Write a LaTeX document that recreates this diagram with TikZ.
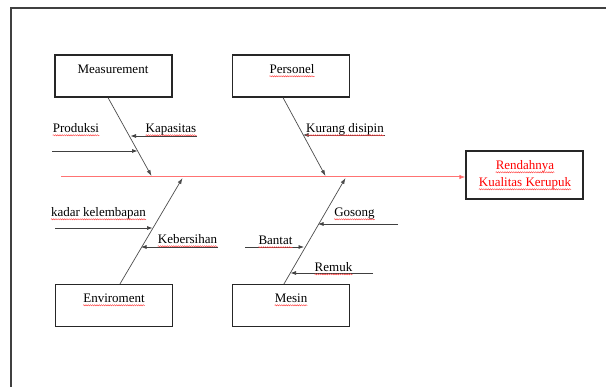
\documentclass[tikz,border=0pt]{standalone}
\usepackage{fontspec}
\setmainfont{Liberation Serif}
\usetikzlibrary{arrows.meta,decorations.pathmorphing}
\begin{document}
\begin{tikzpicture}[x=1pt,y=-1pt,
  catbox/.style={draw=black!85,line width=1.2pt,minimum width=117pt,minimum height=42pt,inner sep=0pt},
  resbox/.style={draw=black!85,line width=1.2pt,minimum width=117pt,minimum height=48pt,inner sep=0pt},
  txt/.style={inner sep=0pt,anchor=base,font=\fontsize{13}{15}\selectfont},
  wavyline/.style={draw=red!75,line width=0.45pt,decorate,decoration={snake,amplitude=0.6pt,segment length=2.2pt}},
  wavy/.style={append after command={([yshift=-2.3pt]\tikzlastnode.base west) edge[wavyline] ([yshift=-2.3pt]\tikzlastnode.base east)}},
  bone/.style={draw=black!70,line width=0.7pt,-{Latex[length=6pt,width=4pt]}},
  sub/.style={draw=black!75,line width=0.7pt,-{Latex[length=5.5pt,width=4pt]}},
  spine/.style={draw=red!55,line width=1pt,-{Latex[length=6pt,width=4.5pt,fill=red]}}
]
\useasboundingbox (0,0) rectangle (606,387);
% frame
\draw[black!75,line width=2pt] (607,8.5) -- (10.5,8.5) -- (10.5,388);

% category boxes
\node[catbox] (meas) at (113.5,76) {};
\node[catbox] (pers) at (291,76) {};
\node[catbox] (env) at (114,305.5) {};
\node[catbox] (mes) at (291,305.5) {};
\node[resbox] (res) at (524.5,175) {};

\node[txt] (tmeas) at (113,74) {Measurement};
\node[txt,wavy] (tpers) at (292,74) {Personel};
\node[txt,wavy] (tenv) at (114,303) {Enviroment};
\node[txt,wavy] (tmes) at (291,303) {Mesin};
\node[txt,wavy,text=red] (tres1) at (525,170) {Rendahnya};
\node[txt,wavy,text=red] (tres2) at (525,187) {Kualitas Kerupuk};

% spine
\coordinate (s0) at (61,177);
\draw[spine] (s0) -- (res.west |- s0);

% bone tips on spine
\coordinate (t1) at (151.5,176);
\coordinate (t2) at (325.5,176);
\coordinate (t3) at (182.5,178);
\coordinate (t4) at (345.5,178);

\draw[bone] ([xshift=-5.5pt]meas.south) -- (t1);
\draw[bone] ([xshift=-8pt]pers.south) -- (t2);
\draw[bone] ([xshift=6pt]env.north) -- (t3);
\draw[bone] ([xshift=-7pt]mes.north) -- (t4);

% sub causes
\coordinate (a1s) at (52,151);  \coordinate (a1e) at (137.5,151);
\coordinate (a2s) at (197,136); \coordinate (a2e) at (130.5,136);
\coordinate (a3s) at (385,135); \coordinate (a3e) at (303,135);
\coordinate (a4s) at (55,228);  \coordinate (a4e) at (152.5,228);
\coordinate (a5s) at (218,247); \coordinate (a5e) at (141,247);
\coordinate (a6s) at (245,247); \coordinate (a6e) at (304,247);
\coordinate (a7s) at (398,224); \coordinate (a7e) at (318,224);
\coordinate (a8s) at (373,273); \coordinate (a8e) at (290.5,273);

\draw[sub] (a1s) -- (a1e);
\draw[sub] (a2s) -- (a2e);
\draw[sub] (a3s) -- (a3e);
\draw[sub] (a4s) -- (a4e);
\draw[sub] (a5s) -- (a5e);
\draw[sub] (a6s) -- (a6e);
\draw[sub] (a7s) -- (a7e);
\draw[sub] (a8s) -- (a8e);

\node[txt,wavy] (l1) at (76,133) {Produksi};
\node[txt,wavy] (l2) at (171,133) {Kapasitas};
\node[txt,wavy] (l3) at (345,133) {Kurang disipin};
\node[txt,wavy] (l4) at (98.5,217) {kadar kelembapan};
\node[txt,wavy] (l5) at (187.5,244) {Kebersihan};
\node[txt,wavy] (l6) at (275.5,245) {Bantat};
\node[txt,wavy] (l7) at (354.5,217) {Gosong};
\node[txt,wavy] (l8) at (333.5,272) {Remuk};
\end{tikzpicture}
\end{document}
